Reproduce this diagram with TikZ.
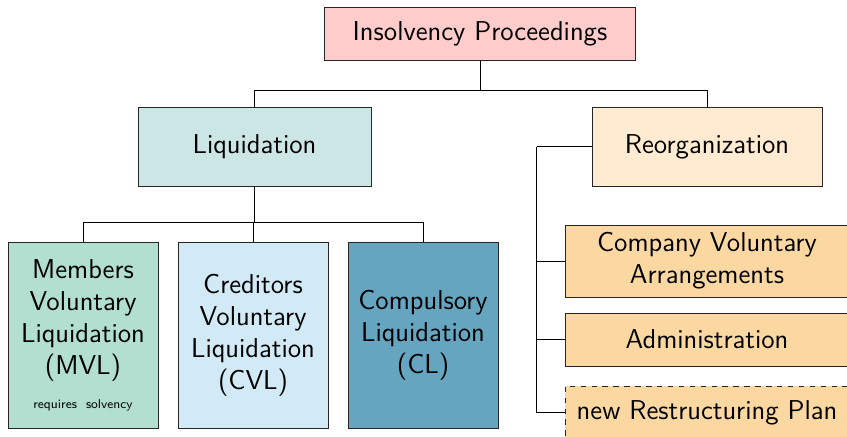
\documentclass[tikz,border=0pt]{standalone}
\usepackage{amsmath}
\usepackage{tikz}
\usetikzlibrary{arrows, shapes, positioning}

\definecolor{toppink}{HTML}{FFCCCC}
\definecolor{liqteal}{HTML}{CCE5E5}
\definecolor{reopeach}{HTML}{FFEBD2}
\definecolor{mvlgreen}{HTML}{B3DFD0}
\definecolor{cvlblue}{HTML}{D2E9F6}
\definecolor{clblue}{HTML}{66A5C0}
\definecolor{reotan}{HTML}{FBD8A2}

\begin{document}
\begin{tikzpicture}[x=0.55pt, y=-0.55pt, line width=0.5pt,
 font=\sffamily\fontsize{15}{17.6}\selectfont,
 box/.style={draw=black!85, shape=rectangle, align=center, inner sep=2pt},
 kind/.style={box, minimum width=82.5pt, minimum height=102.3pt, text width=76pt}]

  \useasboundingbox (0,0) rectangle (847,436);

  \node[box, fill=toppink, minimum width=171pt, minimum height=29.2pt] (insolv) at (480,33.5) {Insolvency Proceedings};

  \node[box, fill=liqteal, minimum width=128.2pt, minimum height=43.5pt] (liq) at (254.5,146.5) {Liquidation};
  \node[box, fill=reopeach, minimum width=126.5pt, minimum height=43.5pt] (reorg) at (707,146.5) {Reorganization};

  \node[kind, fill=mvlgreen] (mvl) at (83,335) {Members\\Voluntary\\Liquidation\\(MVL)\\[1pt]\mbox{\fontsize{7}{8}\selectfont requires solvency}};
  \node[kind, fill=cvlblue] (cvl) at (253,335) {Creditors\\Voluntary\\Liquidation\\(CVL)};
  \node[kind, fill=clblue] (cl) at (423,335) {Compulsory\\Liquidation\\(CL)};

  \node[box, fill=reotan, minimum width=156.2pt, minimum height=39.6pt] (cva) at (707,261) {Company Voluntary\\Arrangements};
  \node[box, fill=reotan, minimum width=156.2pt, minimum height=29.2pt] (admin) at (707,339.5) {Administration};
  \node[box, fill=reotan, dashed, minimum width=156.2pt, minimum height=29.2pt] (plan) at (707,412.5) {new Restructuring Plan};

  % tree connectors
  \draw (insolv.south) -- ++(0,-16.5pt) coordinate (topjoin);
  \draw (topjoin) -| (liq.north);
  \draw (topjoin) -| (reorg.north);

  \draw (liq.south) -- ++(0,-19.8pt) coordinate (liqjoin);
  \draw (liqjoin) -| (mvl.north);
  \draw (liqjoin) -| (cvl.north);
  \draw (liqjoin) -| (cl.north);

  \draw (reorg.west) -- ++(-30.2pt,0) coordinate (reojoin);
  \draw (reojoin) |- (cva.west);
  \draw (reojoin) |- (admin.west);
  \draw (reojoin) |- (plan.west);
\end{tikzpicture}
\end{document}
